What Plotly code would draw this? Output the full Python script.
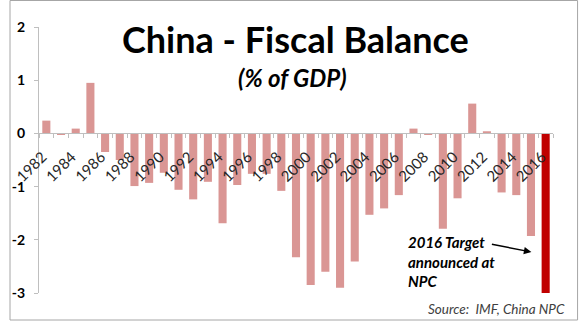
import plotly.graph_objects as go

years = list(range(1982, 2017))
balance = [0.24, -0.02, 0.09, 0.95, -0.35, -0.50, -0.99, -0.93, -0.74, -1.06,
           -1.24, -0.91, -1.69, -0.97, -0.76, -0.76, -1.08, -2.33, -2.85, -2.60,
           -2.90, -2.41, -1.53, -1.41, -1.16, 0.09, -0.03, -1.79, -1.22, 0.56,
           0.04, -1.11, -1.16, -1.93, -3.00]
label_years = list(range(1982, 2017, 2))
y_ticks = [2, 1, 0, -1, -2, -3]

W, H = 580, 322
L, R, T, B = 30, 27, 27, 29
pw, ph = W - L - R, H - T - B

def px(xp):
    return (xp - L) / pw

def py(yp):
    return (H - B - yp) / ph

colors = ["#DA9694"] * (len(years) - 1) + ["#C00000"]

fig = go.Figure()
fig.add_trace(go.Bar(x=years, y=balance, marker=dict(color=colors, line=dict(width=0)),
                     width=0.55, hoverinfo="x+y"))

font = "Lato, 'Open Sans', sans-serif"
fig.update_layout(
    width=W, height=H,
    margin=dict(l=L, r=R, t=T, b=B),
    paper_bgcolor="white", plot_bgcolor="white",
    showlegend=False,
    font=dict(family=font, color="#000000"),
    xaxis=dict(range=[1981.5, 2016.5], anchor="free", position=0.6,
               tickmode="array", tickvals=label_years, ticktext=[str(y) for y in label_years],
               tickangle=-45, ticks="", showline=True, linecolor="#BFBFBF", linewidth=1,
               showgrid=False, zeroline=False, ticklabelstandoff=8, ticklabelshift=-4,
               tickfont=dict(size=15, color="#262626", family=font),
               minor=dict(tickmode="linear", tick0=1981.5, dtick=1, ticks="outside",
                          ticklen=4, tickcolor="#BFBFBF", showgrid=False)),
    yaxis=dict(range=[-3, 2], tickmode="array", tickvals=y_ticks,
               ticktext=[str(v) for v in y_ticks],
               showline=True, linecolor="#BFBFBF", linewidth=1, ticks="outside",
               ticklen=4, tickcolor="#BFBFBF", showgrid=False, zeroline=False,
               ticklabelstandoff=6,
               tickfont=dict(size=14, color="#000000", family=font, weight="bold")),
)

ann = []
ann.append(dict(text="<b>China - Fiscal Balance</b>", x=px(291), y=py(39), xref="paper", yref="paper",
                showarrow=False, font=dict(size=36, family=font, color="#000000"),
                xanchor="center", yanchor="middle"))
ann.append(dict(text="<b><i>(% of GDP)</i></b>", x=px(288), y=py(77), xref="paper", yref="paper",
                showarrow=False, font=dict(size=24, family=font, color="#000000"),
                xanchor="center", yanchor="middle"))
ann.append(dict(text="<b><i>2016 Target<br>announced at<br>NPC</i></b>", x=px(403), y=py(231),
                xref="paper", yref="paper", showarrow=False, align="left",
                font=dict(size=15, family=font, color="#000000"),
                xanchor="left", yanchor="top"))
ann.append(dict(text="", x=px(531), y=py(252), xref="paper", yref="paper", showarrow=True,
                ax=-41, ay=-8, arrowhead=2, arrowsize=1, arrowwidth=1.5, arrowcolor="#000000"))
ann.append(dict(text="<i>Source:  IMF, China NPC</i>", x=px(567), y=py(309), xref="paper", yref="paper",
                showarrow=False, font=dict(size=13.5, family=font, color="#404040"),
                xanchor="right", yanchor="middle"))
fig.update_layout(annotations=ann)

fig.add_shape(type="rect", xref="paper", yref="paper",
              x0=px(0.5), x1=px(578), y0=py(320), y1=py(0.5),
              line=dict(color="#A6A6A6", width=1), fillcolor="rgba(0,0,0,0)", layer="below")

fig.write_html("out.html")
